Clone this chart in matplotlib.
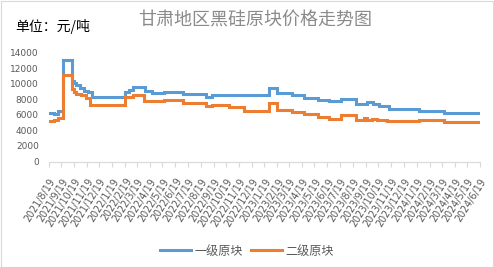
import matplotlib
matplotlib.use("Agg")
import matplotlib.pyplot as plt
import matplotlib.dates as mdates
from matplotlib.transforms import ScaledTranslation
from matplotlib.patches import Rectangle
import pandas as pd

plt.rcParams['font.family'] = ['Noto Sans CJK SC', 'DejaVu Sans']

# ---- data (step change points) ----
grade1_dates = ["2021-08-19", "2021-09-02", "2021-09-10", "2021-09-22", "2021-10-15",
                "2021-10-20", "2021-10-25", "2021-11-02", "2021-11-12", "2021-11-21",
                "2021-12-01", "2022-02-18", "2022-03-01", "2022-03-10", "2022-04-07",
                "2022-04-25", "2022-05-23", "2022-07-08", "2022-09-01", "2022-09-15",
                "2023-01-31", "2023-02-18", "2023-03-25", "2023-04-24", "2023-05-28",
                "2023-06-22", "2023-07-21", "2023-08-27", "2023-09-22", "2023-10-07",
                "2023-10-21", "2023-11-14", "2024-01-25", "2024-03-25", "2024-05-23",
                "2024-06-19"]
grade1_values = [6300, 6150, 6500, 13000, 10400,
                 10100, 9800, 9400, 9100, 8900,
                 8350, 8900, 9250, 9550, 9050,
                 8850, 8950, 8650, 8350, 8550,
                 9450, 8800, 8500, 8200, 7950,
                 7800, 8050, 7450, 7600, 7450,
                 7100, 6800, 6550, 6250, 6300,
                 6300]

grade2_dates = ["2021-08-19", "2021-09-02", "2021-09-10", "2021-09-22", "2021-10-15",
                "2021-10-20", "2021-10-25", "2021-11-05", "2021-11-18", "2021-11-26",
                "2022-02-18", "2022-03-10", "2022-04-05", "2022-05-23", "2022-07-08",
                "2022-09-01", "2022-09-15", "2022-10-25", "2022-12-01", "2023-01-31",
                "2023-02-18", "2023-03-25", "2023-04-24", "2023-05-28", "2023-06-22",
                "2023-07-21", "2023-08-27", "2023-09-15", "2023-09-22", "2023-10-05",
                "2023-10-15", "2023-11-10", "2024-01-25", "2024-03-25", "2024-06-19"]
grade2_values = [5200, 5350, 5550, 11100, 9350,
                 9000, 8700, 8500, 8200, 7300,
                 8250, 8600, 7750, 7900, 7500,
                 7150, 7300, 7000, 6550, 7500,
                 6600, 6400, 6100, 5750, 5500,
                 5950, 5300, 5600, 5350, 5500,
                 5300, 5150, 5400, 5050, 5050]

tick_dates = pd.date_range("2021-08-19", "2024-06-19", freq=pd.DateOffset(months=1))
tick_labels = [f"{d.year}/{d.month}/{d.day}" for d in tick_dates]

series_names = ["一级原块", "二级原块"]
title = "甘肃地区黑硅原块价格走势图"
unit_label = "单位：元/吨"

# ---- figure ----
fig = plt.figure(figsize=(4.94, 2.67), dpi=100)
fig.patches.append(Rectangle((0.5/494, 0.5/267), 1 - 1.5/494, 1 - 1.5/267,
                             transform=fig.transFigure, fill=False,
                             edgecolor="#d9d9d9", linewidth=0.8))
ax = fig.add_axes([48.5/494, 1 - 161.5/267, (480 - 48.5)/494, (161.5 - 52.7)/267])

ax.step(pd.to_datetime(grade1_dates), grade1_values, where="post",
        color="#5B9BD5", linewidth=2.2, label=series_names[0], solid_joinstyle="miter")
ax.step(pd.to_datetime(grade2_dates), grade2_values, where="post",
        color="#ED7D31", linewidth=2.2, label=series_names[1], solid_joinstyle="miter")

ax.set_ylim(0, 14000)
ax.set_yticks(range(0, 14001, 2000))
ax.set_xlim(tick_dates[0], tick_dates[-1])
ax.set_xticks(tick_dates)
ax.set_xticklabels(tick_labels, rotation=58, ha="right", va="top",
                   rotation_mode="anchor", fontsize=6.9, color="#595959",
                   family="DejaVu Sans")
for lab in ax.get_xticklabels():
    lab.set_transform(lab.get_transform() + ScaledTranslation(6/100, 0, fig.dpi_scale_trans))

for lab in ax.get_yticklabels():
    lab.set_fontsize(6.5)
    lab.set_color("#595959")
    lab.set_family("DejaVu Sans")

for s in ["top", "right", "left"]:
    ax.spines[s].set_visible(False)
ax.spines["bottom"].set_color("#d9d9d9")
ax.spines["bottom"].set_linewidth(0.8)
ax.tick_params(axis="x", length=3.6, width=0.8, color="#d9d9d9", pad=7)
ax.tick_params(axis="y", length=0, pad=7)
ax.patch.set_alpha(0)

fig.text(0.516, 0.925, title, ha="center", va="center", fontsize=13, color="#8a8a8a")
fig.text(15/494, 1 - 26/267, unit_label, ha="left", va="center", fontsize=10, color="#000000")

leg = fig.legend(loc="center", bbox_to_anchor=(0.5, 1 - 251/267), ncol=2, frameon=False,
                 fontsize=8.7, handlelength=2.6, handletextpad=0.3, columnspacing=0.6)
for t in leg.get_texts():
    t.set_color("#595959")

fig.savefig("out.png", dpi=100)
